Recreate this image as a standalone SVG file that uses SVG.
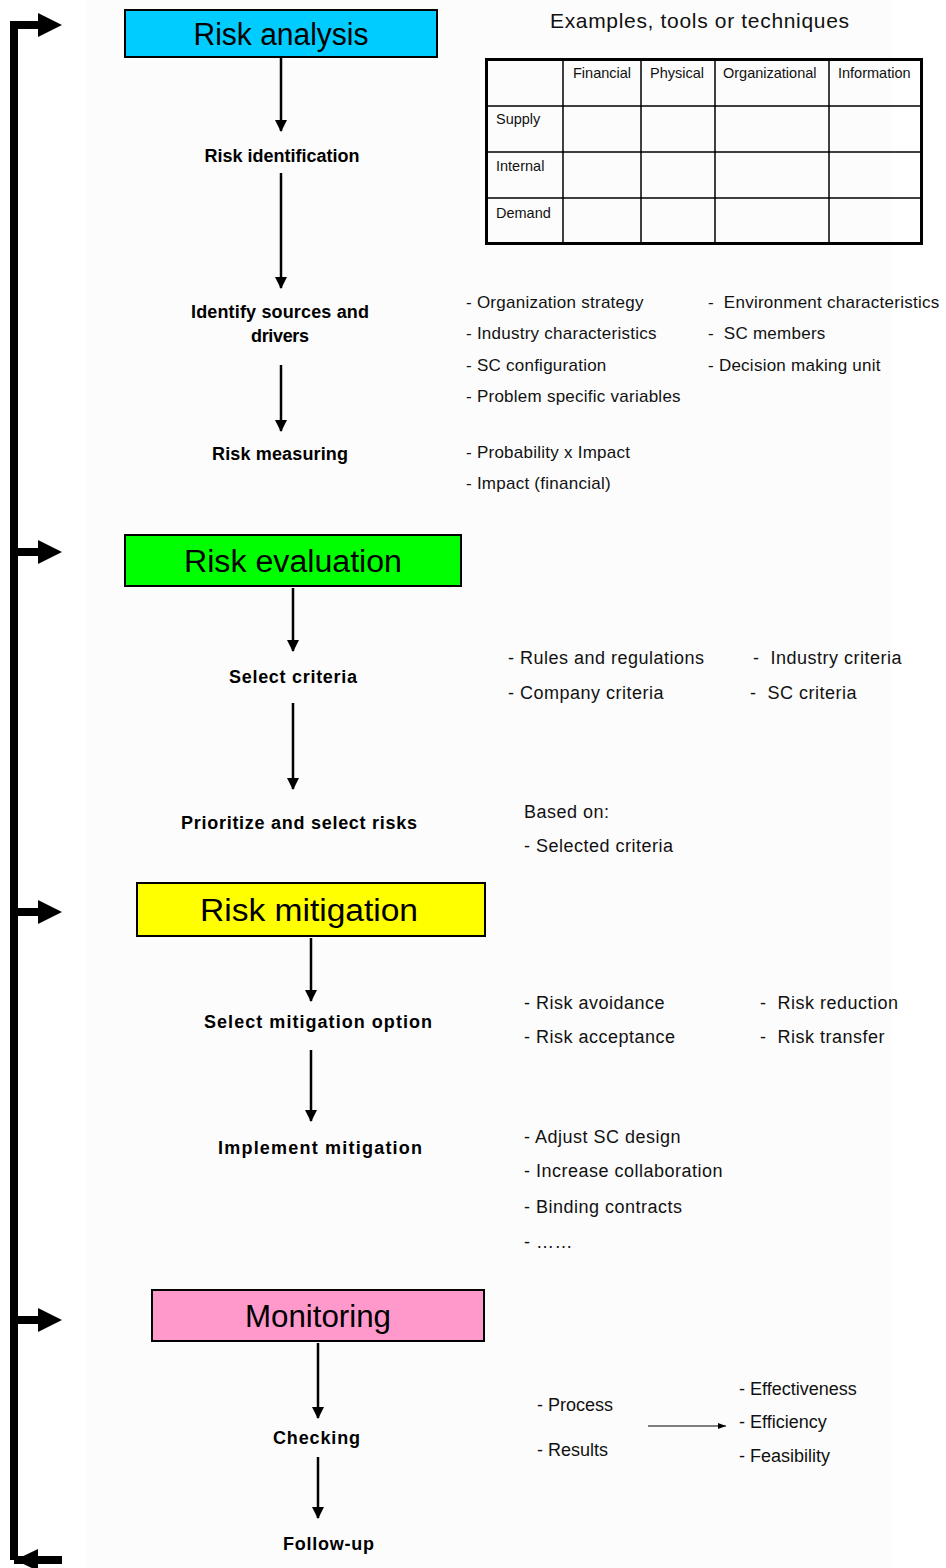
<svg xmlns="http://www.w3.org/2000/svg" width="946" height="1568" viewBox="0 0 946 1568">
  <style>
    .stage { stroke: #000; stroke-width: 2; }
    .title { font-family: "Liberation Sans", Arial, sans-serif; font-size: 31px; fill: #000; text-anchor: middle; }
    .step { font-family: "Liberation Sans", Arial, sans-serif; font-size: 18px; font-weight: bold; fill: #000; text-anchor: middle; }
    .note { font-family: "Liberation Sans", Arial, sans-serif; font-size: 17px; letter-spacing: 0.25px; fill: #111; }
    .note2 { font-family: "Liberation Sans", Arial, sans-serif; font-size: 18px; letter-spacing: 0.5px; fill: #111; }
    .note3 { font-family: "Liberation Sans", Arial, sans-serif; font-size: 18px; fill: #111; }
    .cell { font-family: "Liberation Sans", Arial, sans-serif; font-size: 14.5px; fill: #111; }
    .flow { stroke: #000; stroke-width: 2.5; fill: none; marker-end: url(#head); }
    .thin { stroke: #000; stroke-width: 1.2; fill: none; marker-end: url(#headSmall); }
    .loop { stroke: #000; stroke-width: 8; fill: none; }
  </style>
  <defs>
    <marker id="head" markerUnits="userSpaceOnUse" markerWidth="12" markerHeight="12" refX="11" refY="6" orient="auto">
      <path d="M0,0 L12,6 L0,12 z" fill="#000"/>
    </marker>
    <marker id="headSmall" markerUnits="userSpaceOnUse" markerWidth="8" markerHeight="8" refX="8" refY="4" orient="auto">
      <path d="M0,1 L8,4 L0,7 z" fill="#000"/>
    </marker>
  </defs>

  <rect width="946" height="1568" fill="#fff"/>
  <rect x="86" y="0" width="806" height="1568" fill="#fcfcfc"/>

  <!-- feedback loop on the left -->
  <g id="loop">
    <path class="loop" d="M14,1560 L14,25 L40,25"/>
    <path class="loop" d="M14,552 L40,552 M14,912 L40,912 M14,1320 L40,1320 M14,1560 L62,1560"/>
    <polygon points="62,25 38,13 38,37" fill="#000"/>
    <polygon points="62,552 38,540 38,564" fill="#000"/>
    <polygon points="62,912 38,900 38,924" fill="#000"/>
    <polygon points="62,1320 38,1308 38,1332" fill="#000"/>
    <polygon points="15,1560 38,1549 38,1571" fill="#000"/>
  </g>

  <!-- stage headers -->
  <g id="risk-analysis">
    <rect class="stage" x="125" y="10" width="312" height="47" fill="#00ccff"/>
    <text class="title" x="281" y="45" font-size="30" textLength="175" lengthAdjust="spacingAndGlyphs">Risk analysis</text>
  </g>
  <g id="risk-evaluation">
    <rect class="stage" x="125" y="535" width="336" height="51" fill="#00ff00"/>
    <text class="title" x="293" y="572" textLength="218" lengthAdjust="spacingAndGlyphs">Risk evaluation</text>
  </g>
  <g id="risk-mitigation">
    <rect class="stage" x="137" y="883" width="348" height="53" fill="#ffff00"/>
    <text class="title" x="309" y="921" textLength="218" lengthAdjust="spacingAndGlyphs">Risk mitigation</text>
  </g>
  <g id="monitoring">
    <rect class="stage" x="152" y="1290" width="332" height="51" fill="#ff99cc"/>
    <text class="title" x="318" y="1327" textLength="146" lengthAdjust="spacingAndGlyphs">Monitoring</text>
  </g>

  <!-- steps -->
  <g id="risk-identification"><text class="step" x="282" y="162" textLength="155">Risk identification</text></g>
  <g id="identify-sources"><text class="step" x="280" y="318" textLength="178">Identify sources and</text><text class="step" x="280" y="342" textLength="58">drivers</text></g>
  <g id="risk-measuring"><text class="step" x="280" y="460" textLength="136">Risk measuring</text></g>
  <g id="select-criteria"><text class="step" x="293" y="683" textLength="128">Select criteria</text></g>
  <g id="prioritize"><text class="step" x="299" y="829" textLength="236">Prioritize and select risks</text></g>
  <g id="select-option"><text class="step" x="318" y="1028" textLength="228">Select mitigation option</text></g>
  <g id="implement"><text class="step" x="320" y="1154" textLength="204">Implement mitigation</text></g>
  <g id="checking"><text class="step" x="316.5" y="1444" textLength="87">Checking</text></g>
  <g id="follow-up"><text class="step" x="328.5" y="1550" textLength="91">Follow-up</text></g>

  <!-- connectors -->
  <g id="connectors">
    <line class="flow" x1="281" y1="58" x2="281" y2="131"/>
    <line class="flow" x1="281" y1="173" x2="281" y2="288"/>
    <line class="flow" x1="281" y1="365" x2="281" y2="431"/>
    <line class="flow" x1="293" y1="588" x2="293" y2="651"/>
    <line class="flow" x1="293" y1="703" x2="293" y2="789"/>
    <line class="flow" x1="311" y1="938" x2="311" y2="1001"/>
    <line class="flow" x1="311" y1="1050" x2="311" y2="1121"/>
    <line class="flow" x1="318" y1="1343" x2="318" y2="1418"/>
    <line class="flow" x1="318" y1="1457" x2="318" y2="1518"/>
    <line class="thin" x1="648" y1="1426" x2="726" y2="1426"/>
  </g>

  <!-- examples table -->
  <g id="examples">
    <text x="550" y="28" font-family="'Liberation Sans', Arial, sans-serif" font-size="21" fill="#111" textLength="299" lengthAdjust="spacing">Examples, tools or techniques</text>
    <g stroke="#000" stroke-width="1.5">
      <line x1="563" y1="59" x2="563" y2="244"/>
      <line x1="641" y1="59" x2="641" y2="244"/>
      <line x1="715" y1="59" x2="715" y2="244"/>
      <line x1="829" y1="59" x2="829" y2="244"/>
      <line x1="486" y1="106" x2="922" y2="106"/>
      <line x1="486" y1="152" x2="922" y2="152"/>
      <line x1="486" y1="198" x2="922" y2="198"/>
    </g>
    <rect x="486.5" y="59.5" width="435" height="184" fill="none" stroke="#000" stroke-width="3"/>
    <text class="cell" x="573" y="78">Financial</text>
    <text class="cell" x="650" y="78">Physical</text>
    <text class="cell" x="723" y="78">Organizational</text>
    <text class="cell" x="838" y="78">Information</text>
    <text class="cell" x="496" y="124">Supply</text>
    <text class="cell" x="496" y="171">Internal</text>
    <text class="cell" x="496" y="218">Demand</text>
  </g>

  <!-- analysis notes -->
  <g id="sources-notes">
    <text class="note" x="466" y="308">- Organization strategy</text>
    <text class="note" x="466" y="339">- Industry characteristics</text>
    <text class="note" x="466" y="371">- SC configuration</text>
    <text class="note" x="466" y="402">- Problem specific variables</text>
    <text class="note" x="708" y="308" xml:space="preserve">-  Environment characteristics</text>
    <text class="note" x="708" y="339" xml:space="preserve">-  SC members</text>
    <text class="note" x="708" y="371">- Decision making unit</text>
  </g>
  <g id="measuring-notes">
    <text class="note" x="466" y="458">- Probability x Impact</text>
    <text class="note" x="466" y="489">- Impact (financial)</text>
  </g>

  <!-- evaluation notes -->
  <g id="criteria-notes">
    <text class="note2" x="508" y="664">- Rules and regulations</text>
    <text class="note2" x="508" y="699">- Company criteria</text>
    <text class="note2" x="753" y="664" xml:space="preserve">-  Industry criteria</text>
    <text class="note2" x="750" y="699" xml:space="preserve">-  SC criteria</text>
  </g>
  <g id="prioritize-notes">
    <text class="note2" x="524" y="818">Based on:</text>
    <text class="note2" x="524" y="852">- Selected criteria</text>
  </g>

  <!-- mitigation notes -->
  <g id="option-notes">
    <text class="note2" x="524" y="1009">- Risk avoidance</text>
    <text class="note2" x="524" y="1043">- Risk acceptance</text>
    <text class="note2" x="760" y="1009" xml:space="preserve">-  Risk reduction</text>
    <text class="note2" x="760" y="1043" xml:space="preserve">-  Risk transfer</text>
  </g>
  <g id="implement-notes">
    <text class="note2" x="524" y="1143">- Adjust SC design</text>
    <text class="note2" x="524" y="1177">- Increase collaboration</text>
    <text class="note2" x="524" y="1213">- Binding contracts</text>
    <text class="note2" x="524" y="1248">- ……</text>
  </g>

  <!-- monitoring notes -->
  <g id="checking-notes">
    <text class="note3" x="537" y="1411">- Process</text>
    <text class="note3" x="537" y="1456">- Results</text>
    <text class="note3" x="739" y="1395">- Effectiveness</text>
    <text class="note3" x="739" y="1428">- Efficiency</text>
    <text class="note3" x="739" y="1462">- Feasibility</text>
  </g>
</svg>
